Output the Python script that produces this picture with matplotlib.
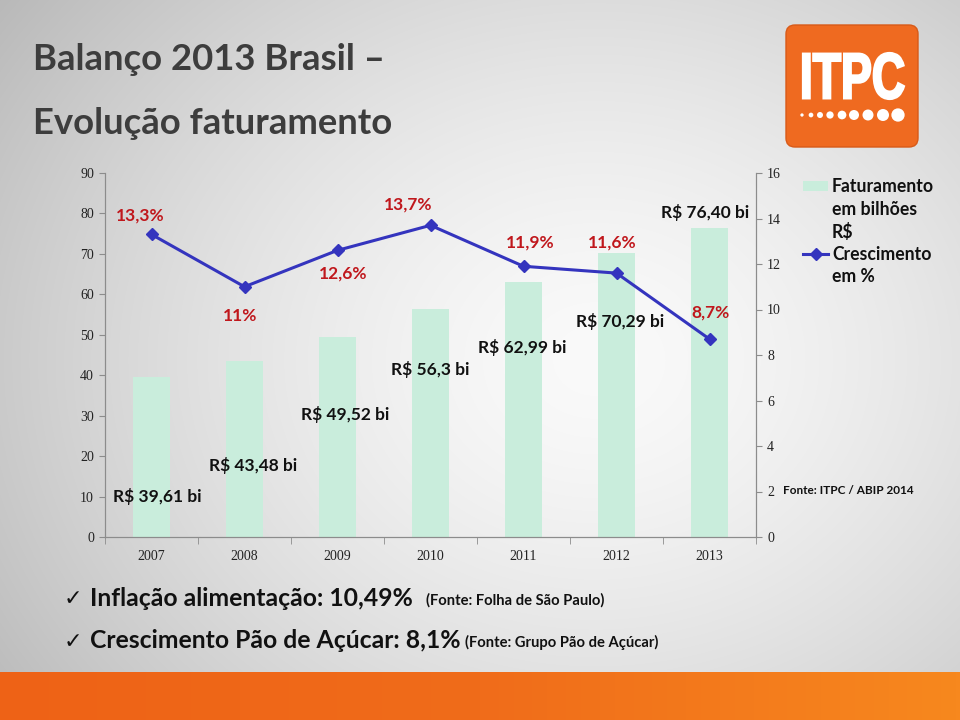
import numpy as np
import matplotlib
matplotlib.use("Agg")
import matplotlib.pyplot as plt
from matplotlib.patches import FancyBboxPatch, Rectangle, Circle, PathPatch
from matplotlib.lines import Line2D
from matplotlib.colors import LinearSegmentedColormap
from matplotlib.textpath import TextPath
from matplotlib.font_manager import FontProperties
from matplotlib.transforms import Affine2D

# ---------------- data ----------------
years = ["2007", "2008", "2009", "2010", "2011", "2012", "2013"]
revenue = [39.61, 43.48, 49.52, 56.30, 62.99, 70.29, 76.40]
revenue_labels = ["R$ 39,61 bi", "R$ 43,48 bi", "R$ 49,52 bi", "R$ 56,3 bi",
                  "R$ 62,99 bi", "R$ 70,29 bi", "R$ 76,40 bi"]
growth = [13.3, 11.0, 12.6, 13.7, 11.9, 11.6, 8.7]
growth_labels = ["13,3%", "11%", "12,6%", "13,7%", "11,9%", "11,6%", "8,7%"]
left_ticks = list(range(0, 91, 10))
right_ticks = list(range(0, 17, 2))

# label offsets from their marks (pixels, y up)
rev_off = [(5.5, -120), (8.5, -104), (7.5, -78), (-0.5, -60), (-1.5, -65), (3.5, -69), (-4.5, 16)]
gr_off = [(-11.5, 19), (-4.5, -29), (5.5, -23), (-22.5, 21), (6.5, 24), (-4.5, 31), (0.5, 27)]

# ---------------- styles ----------------
BAR = "#C9EDDC"
LINE = "#3434BE"
RED = "#C0171C"
SANS = ["Lato", "DejaVu Sans"]
SERIF = ["Liberation Serif", "DejaVu Serif"]
SPINE = "#8C8C8C"

W, H = 960, 720
fig = plt.figure(figsize=(9.6, 7.2), dpi=100)

# ---------------- background layer (pixel coordinates) ----------------
bg = fig.add_axes([0, 0, 1, 1], zorder=0)
bg.axis("off")
yy, xx = np.mgrid[0:H, 0:W]
d = np.sqrt((xx / W - 0.62) ** 2 + ((yy / H - 0.50) * 0.9) ** 2)
v = np.clip(0.98 - 0.38 * d ** 1.5, 0, 1)
bg.imshow(np.dstack([v, v, v]), extent=(0, W, H, 0), aspect="auto", zorder=0)

# orange band at the bottom
cm_or = LinearSegmentedColormap.from_list("or", ["#EE6216", "#F06C1A", "#F7881E"])
bg.imshow(np.linspace(0, 1, 256)[None, :], cmap=cm_or, extent=(0, W, H, 672),
          aspect="auto", zorder=1)

# logo
bg.add_patch(FancyBboxPatch((786, 25), 132, 122, boxstyle="round,pad=0,rounding_size=9",
                            fc="#EF6A20", ec="#D85A18", lw=1, zorder=2))
tp = TextPath((0, 0), "ITPC", size=1, prop=FontProperties(family="Liberation Sans", weight="bold"))
ext = tp.get_extents()
sx = (904 - 803) / ext.width
sy = (99 - 53) / ext.height
tr = Affine2D().translate(-ext.x0, -ext.y0).scale(sx, -sy).translate(803, 99)
bg.add_patch(PathPatch(tr.transform_path(tp), fc="white", ec="white", lw=1.6, zorder=3))
for cx, dd in zip([802, 811, 820, 830, 842, 854, 868, 883, 898],
                  [3.3, 4.7, 6, 7.3, 8.7, 10, 11, 12, 13.3]):
    bg.add_patch(Circle((cx, 115), dd / 2, fc="white", ec="none", zorder=3))

# title
for yt, s in [(60, "Balanço 2013 Brasil –"), (124, "Evolução faturamento")]:
    bg.text(33, yt, s, family=SANS, weight="bold", fontsize=26.3,
            color="#3D3D3D", va="center", ha="left")

# legend
bg.add_patch(Rectangle((803, 181), 25, 10, fc=BAR, ec="none", zorder=3))
bg.add_line(Line2D([803, 828], [254, 254], color=LINE, lw=2.2, zorder=3))
bg.add_line(Line2D([815.5], [254], color=LINE, marker="D", ms=6, zorder=3))
for i, s in enumerate(["Faturamento", "em bilhões", "R$"]):
    bg.text(832, 187 + 22.3 * i, s, family=SANS, weight="bold", fontsize=12.7,
            color="#111111", va="center", ha="left")
for i, s in enumerate(["Crescimento", "em %"]):
    bg.text(832, 254 + 22 * i, s, family=SANS, weight="bold", fontsize=12.7,
            color="#111111", va="center", ha="left")

bg.text(783, 490, "Fonte: ITPC / ABIP 2014", family=SANS, weight="bold", fontsize=8.5,
        color="#111111", va="center", ha="left")

# bullets
for yb, main, src, gap in [(598, "Inflação alimentação: 10,49%", "(Fonte: Folha de São Paulo)", 13),
                           (641, "Crescimento Pão de Açúcar: 8,1%", "(Fonte: Grupo Pão de Açúcar)", 4)]:
    bg.text(64, yb + 1, "✓", family=["DejaVu Sans"], fontsize=16, color="#111111",
            va="center", ha="left")
    t1 = bg.text(90, yb, main, family=SANS, weight="bold", fontsize=17.8, color="#111111",
                 va="center", ha="left")
    bg.annotate(src, xy=(1, 0.22), xycoords=t1, xytext=(gap, 0), textcoords="offset pixels",
                family=SANS, weight="bold", fontsize=10.6, color="#111111",
                va="baseline", ha="left")

bg.set_xlim(0, W)
bg.set_ylim(H, 0)

# ---------------- chart ----------------
ax = fig.add_axes([105 / W, 1 - 537 / H, (756 - 105) / W, (537 - 173) / H], zorder=2)
ax.patch.set_alpha(0)
x = np.arange(len(years))
ax.bar(x, revenue, width=0.39, color=BAR, zorder=2)
ax.set_xlim(-0.5, len(years) - 0.5)
ax.set_ylim(0, 90)
ax.set_yticks(left_ticks)
ax.set_xticks(x, years)
ax.set_xticks(np.arange(-0.5, len(years), 1), minor=True)
ax.tick_params(axis="x", which="major", length=0, pad=9)
ax.tick_params(axis="x", which="minor", length=5, direction="out", color=SPINE)
ax.tick_params(axis="y", length=4, direction="out", pad=4, color=SPINE)
ax.spines["top"].set_visible(False)
for sp in ["left", "bottom", "right"]:
    ax.spines[sp].set_color(SPINE)

ax2 = ax.twinx()
ax2.plot(x, growth, color=LINE, lw=2.2, marker="D", ms=6, zorder=3)
ax2.set_ylim(0, 16)
ax2.set_yticks(right_ticks)
ax2.tick_params(axis="y", length=4, direction="out", pad=4, color=SPINE)
ax2.spines["top"].set_visible(False)
for sp in ["left", "bottom", "right"]:
    ax2.spines[sp].set_color(SPINE)

for a in (ax, ax2):
    for lab in a.get_xticklabels() + a.get_yticklabels():
        lab.set_fontfamily(SERIF)
        lab.set_fontsize(10)
        lab.set_color("#222222")

for xi, val, lab, off in zip(x, revenue, revenue_labels, rev_off):
    ax.annotate(lab, xy=(xi, val), xytext=off, textcoords="offset pixels",
                ha="center", va="center", family=SANS, weight="bold", fontsize=12.5,
                color="#111111", zorder=5)
for xi, val, lab, off in zip(x, growth, growth_labels, gr_off):
    ax2.annotate(lab, xy=(xi, val), xytext=off, textcoords="offset pixels",
                 ha="center", va="center", family=SANS, weight="bold", fontsize=12.5,
                 color=RED, zorder=5)

fig.savefig("out.png", dpi=100)
